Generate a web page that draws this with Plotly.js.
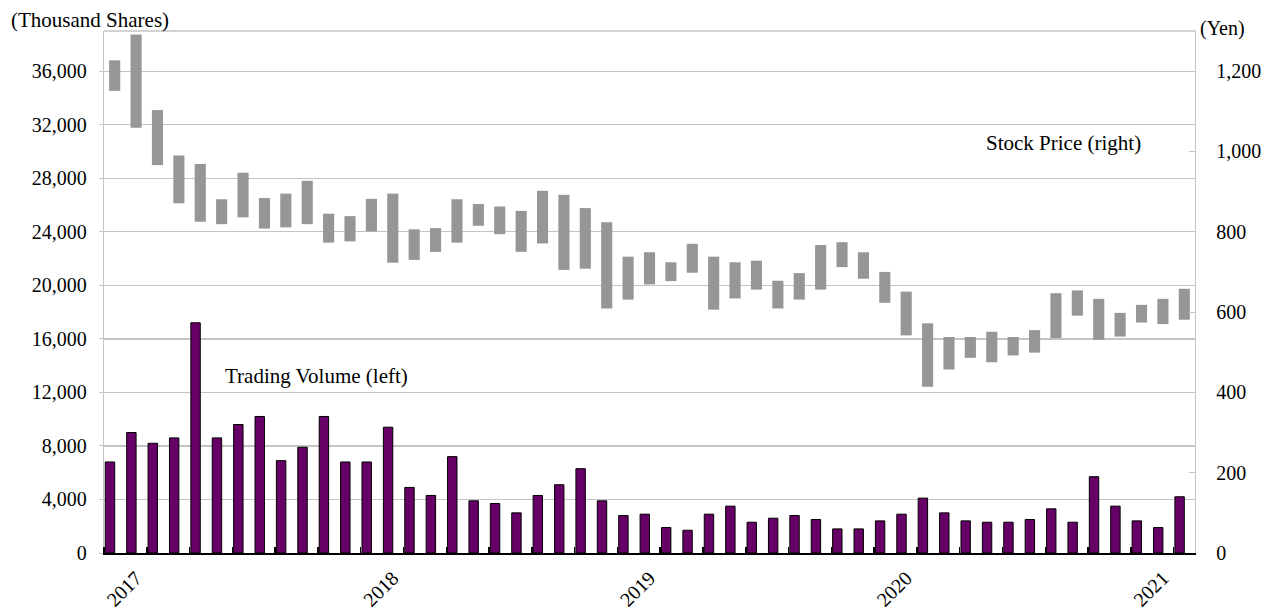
<!DOCTYPE html>
<html>
<head>
<meta charset="utf-8">
<script src="https://cdn.plot.ly/plotly-3.0.1.min.js"></script>
<style>html,body{margin:0;padding:0;background:#fff;}#chart{width:1280px;height:613px;}</style>
</head>
<body>
<div id="chart"></div>
<script>
// Months: Jan 2017 .. Mar 2021
const months = [
 "2017-01","2017-02","2017-03","2017-04","2017-05","2017-06","2017-07","2017-08","2017-09","2017-10","2017-11","2017-12",
 "2018-01","2018-02","2018-03","2018-04","2018-05","2018-06","2018-07","2018-08","2018-09","2018-10","2018-11","2018-12",
 "2019-01","2019-02","2019-03","2019-04","2019-05","2019-06","2019-07","2019-08","2019-09","2019-10","2019-11","2019-12",
 "2020-01","2020-02","2020-03","2020-04","2020-05","2020-06","2020-07","2020-08","2020-09","2020-10","2020-11","2020-12",
 "2021-01","2021-02","2021-03"
];
// Trading volume (thousand shares)
const volume = [
 6800, 9000, 8200, 8600, 17200, 8600, 9600, 10200, 6900, 7900, 10200, 6800,
 6800, 9400, 4900, 4300, 7200, 3900, 3700, 3000, 4300, 5100, 6300, 3900,
 2800, 2900, 1900, 1700, 2900, 3500, 2300, 2600, 2800, 2500, 1800, 1800,
 2400, 2900, 4100, 3000, 2400, 2300, 2300, 2500, 3300, 2300, 5700, 3500,
 2400, 1900, 4200
];
// Monthly stock price range (yen)
const priceHigh = [
 1227, 1291, 1103, 990, 969, 881, 947, 884, 895, 927, 845, 839,
 882, 895, 806, 809, 881, 869, 863, 852, 902, 892, 859, 824,
 738, 749, 724, 770, 738, 724, 728, 678, 697, 767, 774, 749,
 700, 651, 572, 538, 538, 551, 538, 555, 647, 654, 633, 598,
 618, 633, 658
];
const priceLow = [
 1151, 1059, 966, 871, 825, 819, 836, 808, 811, 819, 773, 776,
 801, 723, 730, 750, 773, 815, 794, 750, 771, 705, 708, 609,
 631, 669, 677, 698, 606, 634, 656, 609, 631, 656, 712, 683,
 623, 542, 414, 457, 486, 475, 492, 499, 535, 591, 531, 539,
 574, 570, 581
];
const yearLabels = ["2017","2018","2019","2020","2021"];

const idx = months.map((m, i) => i);
const yearTickVals = yearLabels.map(y => months.indexOf(y + "-02"));
const priceSpan = priceHigh.map((h, i) => h - priceLow[i]);

const FONT = "Liberation Serif, Times New Roman, serif";
const FS = 20;

const traces = [
  {
    type: "bar", name: "Trading Volume (left)",
    x: idx, y: volume, xaxis: "x", yaxis: "y",
    width: 0.44, offset: -0.44,
    marker: {color: "#660066", line: {color: "#000000", width: 1}},
    hoverinfo: "y"
  },
  {
    type: "bar", name: "Stock Price (right)",
    x: idx, y: priceSpan, base: priceLow, xaxis: "x", yaxis: "y2",
    width: 0.52, offset: -0.26,
    marker: {color: "#969696", line: {width: 0}},
    hoverinfo: "y"
  }
];

const W = 1280, H = 613, L = 104, R = 85, T = 31, B = 60;
const pw = W - L - R, ph = H - T - B;
const px = v => (v - L) / pw;
const py = v => (H - B - v) / ph;

const layout = {
  width: W, height: H,
  margin: {l: L, r: R, t: T, b: B, pad: 0},
  paper_bgcolor: "#ffffff", plot_bgcolor: "#ffffff",
  showlegend: false,
  barmode: "overlay",
  font: {family: FONT, size: FS, color: "#000000"},
  xaxis: {
    range: [-0.5, months.length - 0.5],
    tickmode: "array", tickvals: yearTickVals, ticktext: yearLabels,
    tickangle: -45, ticks: "", ticklabelstandoff: 4,
    showgrid: false, zeroline: false,
    showline: true, linecolor: "#000000", linewidth: 1.5,
    minor: {tickmode: "linear", tick0: -0.5, dtick: 2, ticks: "inside", ticklen: 6, tickcolor: "#000000", tickwidth: 1.5, showgrid: false},
    tickfont: {family: FONT, size: FS, color: "#000000"},
    fixedrange: true
  },
  yaxis: {
    range: [0, 39000], tickmode: "linear", tick0: 0, dtick: 4000,
    tickformat: ",d",
    showgrid: true, gridcolor: "#c4c4c4", gridwidth: 1.3,
    zeroline: false,
    showline: true, linecolor: "#c4c4c4", linewidth: 1.3,
    ticks: "outside", ticklen: 4, tickcolor: "#c4c4c4",
    ticklabelstandoff: 8,
    tickfont: {family: FONT, size: FS, color: "#000000"},
    fixedrange: true
  },
  yaxis2: {
    overlaying: "y", side: "right",
    range: [0, 1300], tickmode: "linear", tick0: 0, dtick: 200,
    tickformat: ",d",
    showgrid: false, zeroline: false,
    showline: true, linecolor: "#c4c4c4", linewidth: 1.3,
    ticks: "inside", ticklen: 6, tickcolor: "#c4c4c4",
    ticklabelstandoff: 16,
    tickfont: {family: FONT, size: FS, color: "#000000"},
    fixedrange: true
  },
  shapes: [
    {type: "line", xref: "paper", yref: "paper", x0: 0, x1: 1, y0: 1, y1: 1,
     line: {color: "#c4c4c4", width: 1.3}}
  ],
  annotations: [
    {text: "(Thousand Shares)", xref: "paper", yref: "paper", x: px(90), y: py(20),
     xanchor: "center", yanchor: "middle", showarrow: false, font: {family: FONT, size: FS + 1}},
    {text: "(Yen)", xref: "paper", yref: "paper", x: px(1222), y: py(29),
     xanchor: "center", yanchor: "middle", showarrow: false, font: {family: FONT, size: FS}},
    {text: "Stock Price (right)", xref: "paper", yref: "paper", x: px(1063), y: py(143),
     xanchor: "center", yanchor: "middle", showarrow: false, font: {family: FONT, size: FS + 1}},
    {text: "Trading Volume (left)", xref: "paper", yref: "paper", x: px(316), y: py(376),
     xanchor: "center", yanchor: "middle", showarrow: false, font: {family: FONT, size: FS + 1}}
  ]
};

Plotly.newPlot("chart", traces, layout, {displayModeBar: false, staticPlot: true});
</script>
</body>
</html>
